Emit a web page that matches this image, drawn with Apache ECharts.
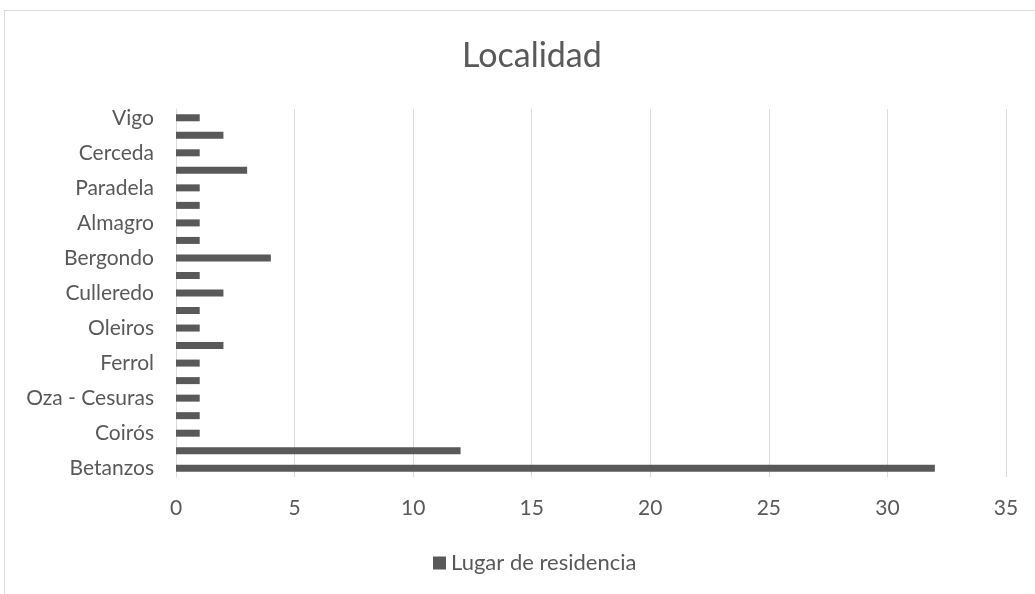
<!DOCTYPE html>
<html>
<head>
<meta charset="utf-8">
<script src="https://cdn.jsdelivr.net/npm/echarts@6/dist/echarts.min.js"></script>
<style>
  html, body { margin: 0; padding: 0; background: #fff; }
  #frame { position: absolute; left: 4px; top: 10px; width: 1040px; height: 600px; border: 1px solid #d9d9d9; box-sizing: border-box; }
  #chart { position: absolute; left: 0; top: 0; width: 1035px; height: 594px; }
</style>
</head>
<body>
<div id="frame"></div>
<div id="chart"></div>
<script>
// Municipalities, listed bottom to top
const localidades = [
  'Betanzos', 'A Coruña', 'Coirós', 'Abegondo', 'Oza - Cesuras', 'Paderne',
  'Ferrol', 'Sada', 'Oleiros', 'Arteixo', 'Culleredo', 'Carral', 'Bergondo',
  'Miño', 'Almagro', 'Irixoa', 'Paradela', 'Aranga', 'Cerceda', 'Santiago de Compostela', 'Vigo'
];
const residencia = [32, 12, 1, 1, 1, 1, 1, 2, 1, 1, 2, 1, 4, 1, 1, 1, 1, 3, 1, 2, 1];
const xTicks = { min: 0, max: 35, step: 5 };

const FONT = 'Lato, "Open Sans", "Liberation Sans", sans-serif';
const TXT = '#595959';

const chart = echarts.init(document.getElementById('chart'), null, { renderer: 'canvas' });
chart.setOption({
  animation: false,
  backgroundColor: 'transparent',
  title: {
    text: 'Localidad',
    left: 457,
    top: 34,
    textStyle: { fontFamily: FONT, fontSize: 34, fontWeight: 'normal', color: TXT }
  },
  legend: {
    bottom: 15,
    left: 428,
    itemWidth: 13,
    itemHeight: 13,
    icon: 'rect',
    itemGap: 8,
    textStyle: { fontFamily: FONT, fontSize: 22, color: TXT },
    data: ['Lugar de residencia']
  },
  grid: { left: 176, right: 29, top: 109, bottom: 117, containLabel: false },
  xAxis: {
    type: 'value',
    min: xTicks.min,
    max: xTicks.max,
    interval: xTicks.step,
    axisLine: { show: false },
    axisTick: { show: false },
    axisLabel: { fontFamily: FONT, fontSize: 21, color: TXT, margin: 21 },
    splitLine: { show: true, lineStyle: { color: '#d9d9d9', width: 1 } }
  },
  yAxis: {
    type: 'category',
    data: localidades,
    axisLine: { show: true, lineStyle: { color: '#d9d9d9', width: 1 } },
    axisTick: { show: false },
    axisLabel: { interval: 1, fontFamily: FONT, fontSize: 21, color: TXT, margin: 22 }
  },
  series: [{
    name: 'Lugar de residencia',
    type: 'bar',
    data: residencia,
    barWidth: 7,
    itemStyle: { color: '#595959' }
  }]
});
</script>
</body>
</html>
